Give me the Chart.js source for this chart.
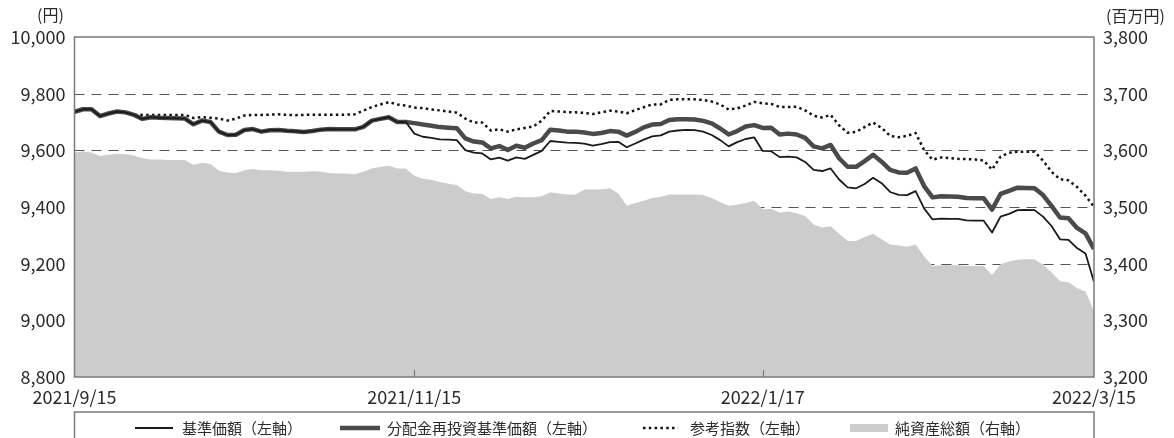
<!DOCTYPE html>
<html>
<head>
<meta charset="utf-8">
<script src="https://cdn.jsdelivr.net/npm/chart.js@4.4.1/dist/chart.umd.min.js"></script>
<style>
  html, body { margin: 0; padding: 0; background: #fff; }
  #wrap { width: 1174px; height: 438px; }
</style>
</head>
<body>
<div id="wrap"><canvas id="navChart" width="1174" height="438"></canvas></div>
<script>
// business-day index 0..120 (2021/9/15 .. 2022/3/15)
const tickPos = [0, 40, 81, 120];
const tickLabels = ['2021/9/15', '2021/11/15', '2022/1/17', '2022/3/15'];

// 基準価額（左軸）
const nav = [
  9736, 9745, 9745, 9721, 9730, 9737, 9734, 9725, 9711, 9717,
  9715, 9714, 9713, 9712, 9692, 9705, 9700, 9666, 9654, 9655,
  9672, 9675, 9666, 9671, 9672, 9669, 9667, 9665, 9668, 9673,
  9675, 9674, 9674, 9674, 9683, 9705, 9711, 9717, 9700, 9700,
  9659, 9648, 9644, 9639, 9638, 9636, 9601, 9592, 9589, 9568,
  9574, 9564, 9575, 9570, 9584, 9598, 9633, 9630, 9627, 9626,
  9624, 9617, 9622, 9629, 9630, 9611, 9624, 9638, 9649, 9653,
  9666, 9670, 9672, 9671, 9666, 9654, 9636, 9614, 9629, 9640,
  9646, 9598, 9597, 9576, 9578, 9575, 9559, 9531, 9527, 9536,
  9497, 9469, 9466, 9481, 9503, 9484, 9453, 9443, 9442, 9456,
  9395, 9356, 9359, 9358, 9358, 9353, 9352, 9352, 9310, 9366,
  9376, 9389, 9390, 9389, 9366, 9333, 9286, 9284, 9255, 9236,
  9136
];

// 分配金再投資基準価額（左軸）
const navReinvest = [
  9736, 9745, 9745, 9721, 9730, 9737, 9734, 9725, 9711, 9717,
  9715, 9714, 9713, 9712, 9692, 9705, 9700, 9666, 9654, 9655,
  9672, 9675, 9666, 9671, 9672, 9669, 9667, 9665, 9668, 9673,
  9675, 9674, 9674, 9674, 9683, 9705, 9711, 9717, 9700, 9700,
  9696, 9691, 9687, 9682, 9680, 9678, 9642, 9631, 9628, 9607,
  9615, 9601, 9616, 9609, 9624, 9636, 9673, 9670, 9666, 9666,
  9663, 9658, 9661, 9668, 9666, 9652, 9665, 9681, 9691, 9693,
  9707, 9710, 9710, 9709, 9704, 9695, 9677, 9656, 9668, 9684,
  9689, 9679, 9680, 9656, 9659, 9656, 9644, 9614, 9607, 9619,
  9572, 9542, 9542, 9562, 9584, 9560, 9531, 9522, 9521, 9536,
  9474, 9434, 9438, 9437, 9436, 9432, 9431, 9431, 9391, 9446,
  9457, 9468, 9467, 9466, 9442, 9404, 9363, 9360, 9326, 9307,
  9252
];

// 参考指数（左軸）
const refIndex = [
  9739, 9747, 9747, 9723, 9732, 9739, 9735, 9726, 9725, 9725,
  9725, 9725, 9725, 9725, 9714, 9717, 9715, 9712, 9705, 9712,
  9723, 9725, 9725, 9726, 9727, 9725, 9724, 9725, 9726, 9726,
  9726, 9726, 9726, 9727, 9740, 9753, 9762, 9770, 9762, 9758,
  9751, 9749, 9744, 9741, 9737, 9733, 9712, 9698, 9698, 9670,
  9674, 9666, 9674, 9679, 9684, 9705, 9739, 9737, 9735, 9734,
  9732, 9728, 9734, 9740, 9737, 9731, 9742, 9752, 9762, 9762,
  9778, 9780, 9780, 9780, 9778, 9772, 9762, 9744, 9748, 9758,
  9771, 9766, 9764, 9753, 9753, 9754, 9741, 9722, 9716, 9725,
  9688, 9662, 9665, 9682, 9698, 9679, 9651, 9646, 9651, 9661,
  9601, 9567, 9575, 9573, 9570, 9569, 9568, 9564, 9532, 9578,
  9591, 9595, 9595, 9595, 9564, 9524, 9498, 9494, 9471, 9440,
  9401
];

// 純資産総額（右軸, 百万円）
const netAssets = [
  3596, 3598, 3596, 3590, 3592, 3594, 3593, 3591, 3586, 3584,
  3584, 3583, 3583, 3583, 3574, 3578, 3576, 3564, 3561, 3560,
  3565, 3567, 3565, 3565, 3564, 3562, 3562, 3562, 3563, 3562,
  3560, 3559, 3559, 3558, 3562, 3568, 3571, 3573, 3568, 3568,
  3555, 3550, 3548, 3544, 3541, 3539, 3528, 3524, 3523, 3514,
  3517, 3514, 3518, 3517, 3517, 3519, 3526, 3524, 3522, 3522,
  3531, 3531, 3531, 3533, 3524, 3502, 3507, 3511, 3516, 3518,
  3522, 3522, 3522, 3522, 3521, 3516, 3509, 3502, 3504, 3507,
  3511, 3496, 3497, 3490, 3492, 3489, 3484, 3469, 3464, 3466,
  3453, 3440, 3440, 3447, 3453, 3443, 3434, 3432, 3430, 3434,
  3413, 3396, 3397, 3397, 3397, 3396, 3396, 3396, 3380, 3399,
  3404, 3407, 3408, 3408, 3398, 3385, 3369, 3367, 3357, 3351,
  3316
];

const toPoints = arr => arr.map((v, i) => ({ x: i, y: v }));

const FONT = '"Noto Sans CJK JP", "Noto Sans", sans-serif';
const TEXT = '#2b2b2b';

// grid lines, frame, ticks, unit labels and legend box
const decor = {
  id: 'decor',
  beforeDatasetsDraw(chart) {
    const { ctx, chartArea: a, scales: { y } } = chart;
    ctx.save();
    ctx.strokeStyle = '#555';
    ctx.lineWidth = 1.2;
    ctx.setLineDash([10, 7]);
    for (const t of y.ticks) {
      if (t.value === y.max || t.value === y.min) continue;
      const py = Math.round(y.getPixelForValue(t.value)) + 0.5;
      ctx.beginPath();
      ctx.moveTo(a.left, py);
      ctx.lineTo(a.right, py);
      ctx.stroke();
    }
    ctx.restore();
  },
  afterDatasetsDraw(chart) {
    const { ctx, chartArea: a, scales: { x } } = chart;
    ctx.save();
    ctx.strokeStyle = '#7a7a7a';
    ctx.lineWidth = 1.5;
    ctx.strokeRect(a.left, a.top, a.right - a.left, a.bottom - a.top);
    ctx.lineWidth = 1.2;
    for (const p of tickPos.slice(1, -1)) {
      const px = Math.round(x.getPixelForValue(p)) + 0.5;
      ctx.beginPath();
      ctx.moveTo(px, a.bottom);
      ctx.lineTo(px, a.bottom - 7);
      ctx.stroke();
    }
    ctx.restore();
  },
  afterDraw(chart) {
    const { ctx, chartArea: a } = chart;
    ctx.save();
    ctx.fillStyle = TEXT;
    ctx.font = '16px ' + FONT;
    ctx.textBaseline = 'middle';
    ctx.textAlign = 'left';
    ctx.fillText('(円)', 37, 15);
    ctx.fillText('(百万円)', 1106, 16);

    // legend
    const top = 412;
    ctx.strokeStyle = '#7a7a7a';
    ctx.lineWidth = 1.5;
    ctx.beginPath();
    ctx.moveTo(a.left, 445);
    ctx.lineTo(a.left, top);
    ctx.lineTo(a.right, top);
    ctx.lineTo(a.right, 445);
    ctx.stroke();

    const ly = 428;
    const items = [
      { sx: 135, ex: 173, tx: 182 },
      { sx: 340, ex: 380, tx: 387 },
      { sx: 643, ex: 678, tx: 690 },
      { sx: 850, ex: 888, tx: 895 }
    ];
    chart.data.datasets.forEach((ds, i) => {
      const it = items[i];
      ctx.save();
      if (ds.fill) {
        ctx.fillStyle = ds.backgroundColor;
        ctx.fillRect(it.sx, ly - 4, it.ex - it.sx, 8);
      } else {
        ctx.strokeStyle = ds.borderColor;
        ctx.lineWidth = ds.borderWidth;
        ctx.setLineDash(ds.borderDash || []);
        ctx.beginPath();
        ctx.moveTo(it.sx, ly);
        ctx.lineTo(it.ex, ly);
        ctx.stroke();
      }
      ctx.restore();
      ctx.font = '15px ' + FONT;
      ctx.fillStyle = TEXT;
      ctx.fillText(ds.label, it.tx, ly);
    });
    ctx.restore();
  }
};

new Chart(document.getElementById('navChart'), {
  type: 'line',
  data: {
    datasets: [
      {
        label: '基準価額（左軸）',
        data: toPoints(nav),
        borderColor: '#1a1a1a',
        borderWidth: 1.8,
        yAxisID: 'y'
      },
      {
        label: '分配金再投資基準価額（左軸）',
        data: toPoints(navReinvest),
        borderColor: '#4a4a4a',
        borderWidth: 4.5,
        yAxisID: 'y'
      },
      {
        label: '参考指数（左軸）',
        data: toPoints(refIndex),
        borderColor: '#111',
        borderWidth: 2.5,
        borderDash: [2.5, 3.3],
        yAxisID: 'y'
      },
      {
        label: '純資産総額（右軸）',
        data: toPoints(netAssets),
        borderWidth: 0,
        backgroundColor: '#cccccc',
        fill: 'start',
        yAxisID: 'y1'
      }
    ]
  },
  options: {
    responsive: false,
    animation: false,
    devicePixelRatio: 1,
    layout: { padding: { top: 37, left: 0, right: 0, bottom: 0 } },
    elements: { point: { radius: 0 }, line: { tension: 0, borderJoinStyle: 'round' } },
    plugins: { legend: { display: false }, tooltip: { enabled: false } },
    scales: {
      x: {
        type: 'linear',
        min: 0,
        max: 120,
        grid: { display: false, drawTicks: false },
        border: { display: false },
        afterBuildTicks: s => { s.ticks = tickPos.map(v => ({ value: v })); },
        afterFit: s => { s.height = 61; },
        ticks: {
          autoSkip: false,
          maxRotation: 0,
          padding: 9,
          color: TEXT,
          font: { family: FONT, size: 18 },
          callback: v => tickLabels[tickPos.indexOf(v)]
        }
      },
      y: {
        position: 'left',
        min: 8800,
        max: 10000,
        grid: { display: false, drawTicks: false },
        border: { display: false },
        afterFit: s => { s.width = 74.5; },
        ticks: {
          stepSize: 200,
          padding: 9,
          color: TEXT,
          font: { family: FONT, size: 18 },
          callback: v => v.toLocaleString('en-US')
        }
      },
      y1: {
        position: 'right',
        min: 3200,
        max: 3800,
        grid: { display: false, drawTicks: false },
        border: { display: false },
        afterFit: s => { s.width = 80; },
        ticks: {
          stepSize: 100,
          padding: 9,
          color: TEXT,
          font: { family: FONT, size: 18 },
          callback: v => v.toLocaleString('en-US')
        }
      }
    }
  },
  plugins: [decor]
});
</script>
</body>
</html>
